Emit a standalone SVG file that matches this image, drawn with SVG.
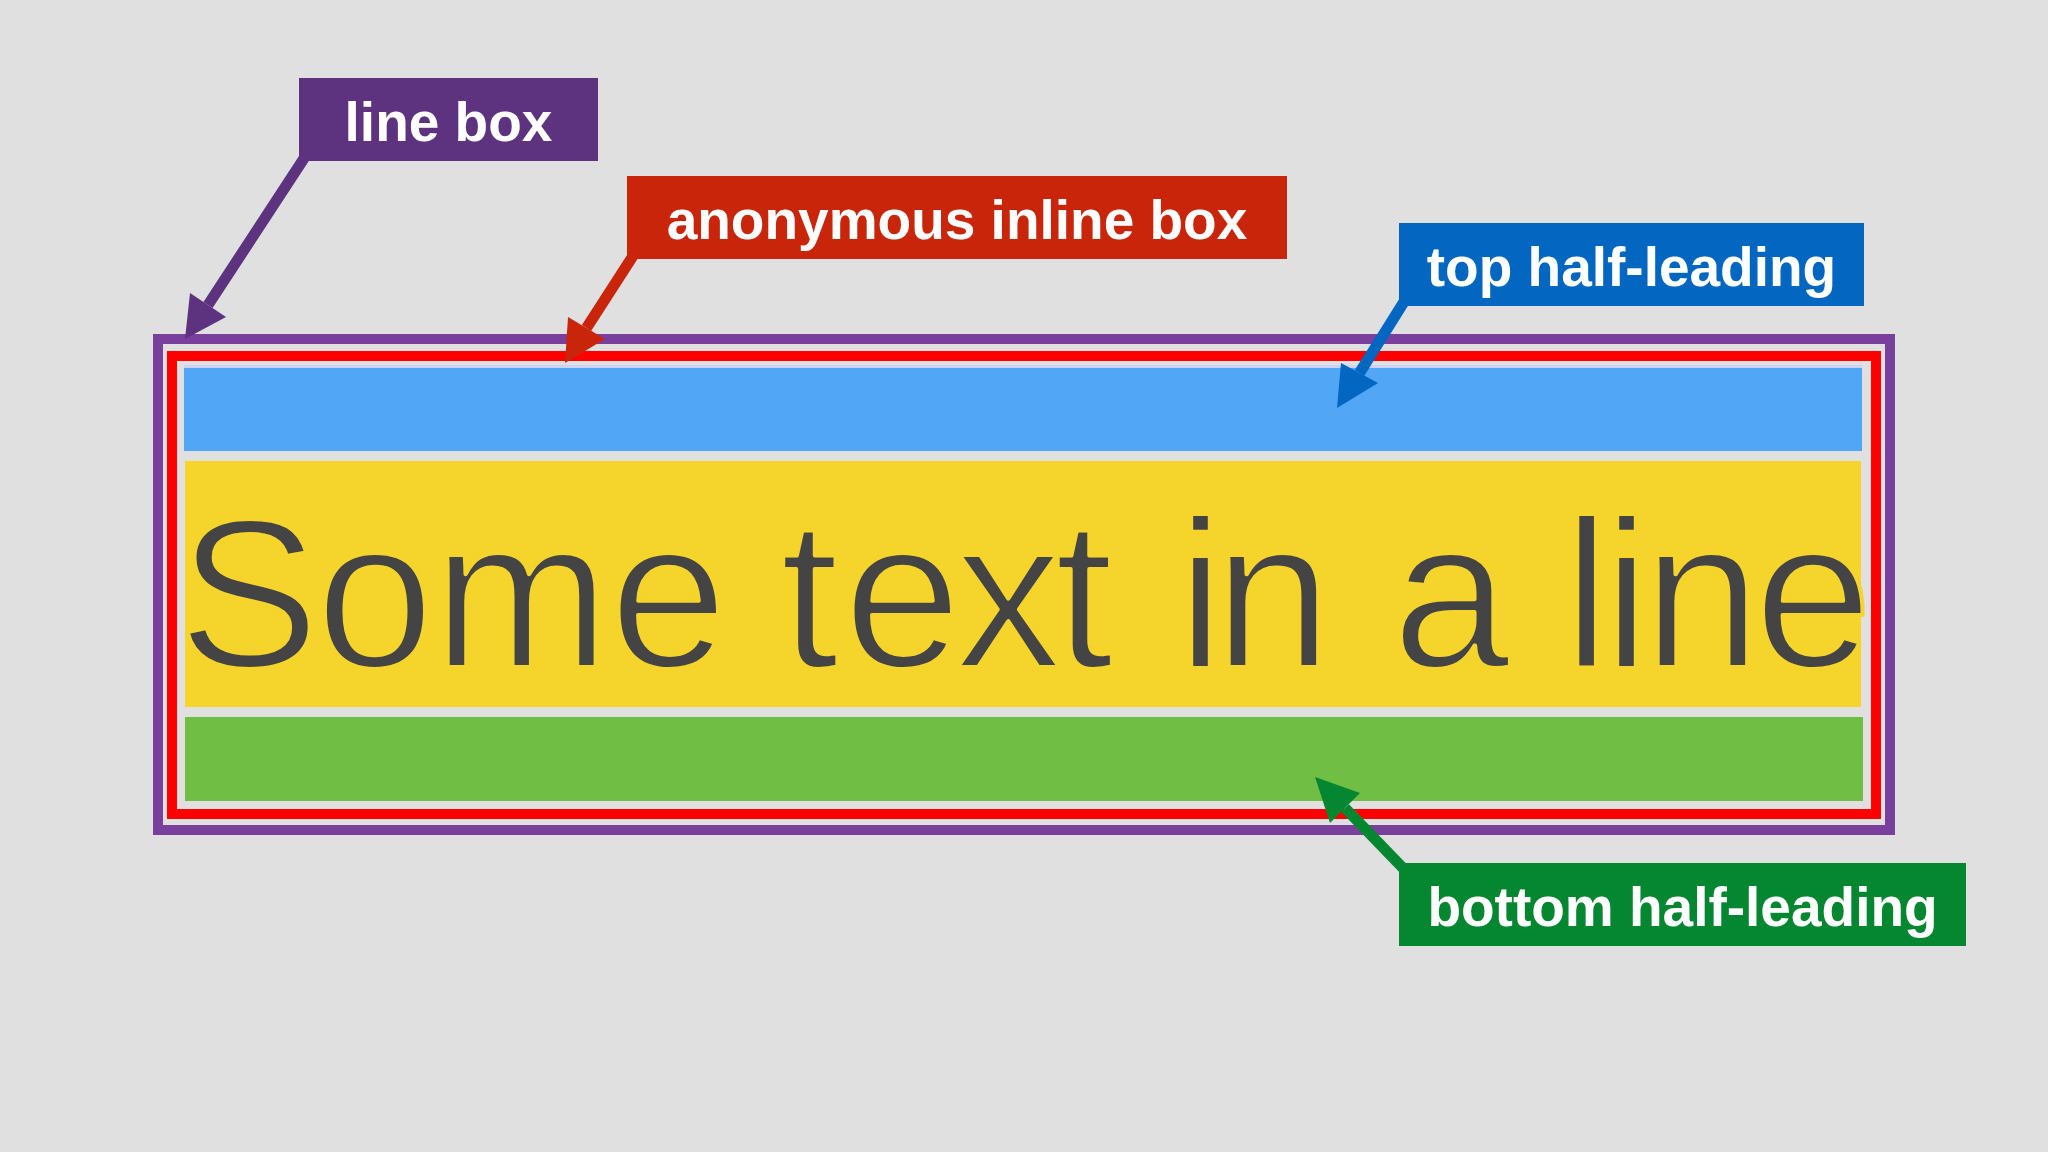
<svg xmlns="http://www.w3.org/2000/svg" width="2048" height="1152" viewBox="0 0 2048 1152">
  <style>
    .lbl { font-family: "Liberation Sans", Arial, sans-serif; font-weight: bold; font-size: 55px; fill: #ffffff; text-anchor: middle; }
    .big { font-family: "Liberation Sans", Arial, sans-serif; font-size: 212px; fill: #444444; stroke: #f5d42b; stroke-width: 4; stroke-linejoin: round; }
    .conn { fill: none; stroke-width: 11; stroke-linecap: butt; }
  </style>
  <rect x="0" y="0" width="2048" height="1152" fill="#e0e0e0"/>

  <g id="line-box-frame">
    <rect x="158" y="339" width="1732" height="491" fill="none" stroke="#7a3f9d" stroke-width="10"/>
  </g>
  <g id="inline-box-frame">
    <rect x="172" y="356" width="1704" height="458" fill="none" stroke="#ff0000" stroke-width="10"/>
  </g>
  <g id="top-half-leading-band">
    <rect x="184" y="366" width="1678" height="85" fill="#51a6f6"/>
    <rect x="184" y="365" width="1678" height="3" fill="#cfd3f2"/>
  </g>
  <g id="content-band">
    <rect x="185" y="461" width="1676" height="246" fill="#f5d42b"/>
    <text class="big" x="178 316 433 609.5 727 780 843.5 955.5 1054.4 1113 1177 1214 1332 1392 1510 1563 1603 1643 1754" y="667">Some text in a line</text>
  </g>
  <g id="bottom-half-leading-band">
    <rect x="185" y="717" width="1678" height="84" fill="#70bf44"/>
  </g>

  <g id="connectors">
    <line class="conn" x1="308.5" y1="151.6" x2="208" y2="305" stroke="#5d3380"/>
    <polygon points="185,339 190,293 226,317" fill="#5d3380"/>
    <line class="conn" x1="636.4" y1="250.6" x2="586.5" y2="328" stroke="#c9250a"/>
    <polygon points="565,363 568,317 605,339" fill="#c9250a"/>
    <line class="conn" x1="1407.3" y1="296.5" x2="1359.5" y2="373" stroke="#0366c0"/>
    <polygon points="1337,408 1341,363 1378,383" fill="#0366c0"/>
    <line class="conn" x1="1407" y1="872.2" x2="1345" y2="808" stroke="#058631"/>
    <polygon points="1315,777 1330,823 1360,793" fill="#058631"/>
  </g>

  <g id="label-line-box">
    <rect x="299" y="78" width="299" height="83" fill="#5d3380"/>
    <text class="lbl" x="448.5" y="141">line box</text>
  </g>
  <g id="label-anonymous-inline-box">
    <rect x="627" y="176" width="660" height="83" fill="#c9250a"/>
    <text class="lbl" x="957" y="239">anonymous inline box</text>
  </g>
  <g id="label-top-half-leading">
    <rect x="1399" y="223" width="465" height="83" fill="#0366c0"/>
    <text class="lbl" x="1631.5" y="286">top half-leading</text>
  </g>
  <g id="label-bottom-half-leading">
    <rect x="1399" y="863" width="567" height="83" fill="#058631"/>
    <text class="lbl" x="1682.5" y="926">bottom half-leading</text>
  </g>
</svg>
